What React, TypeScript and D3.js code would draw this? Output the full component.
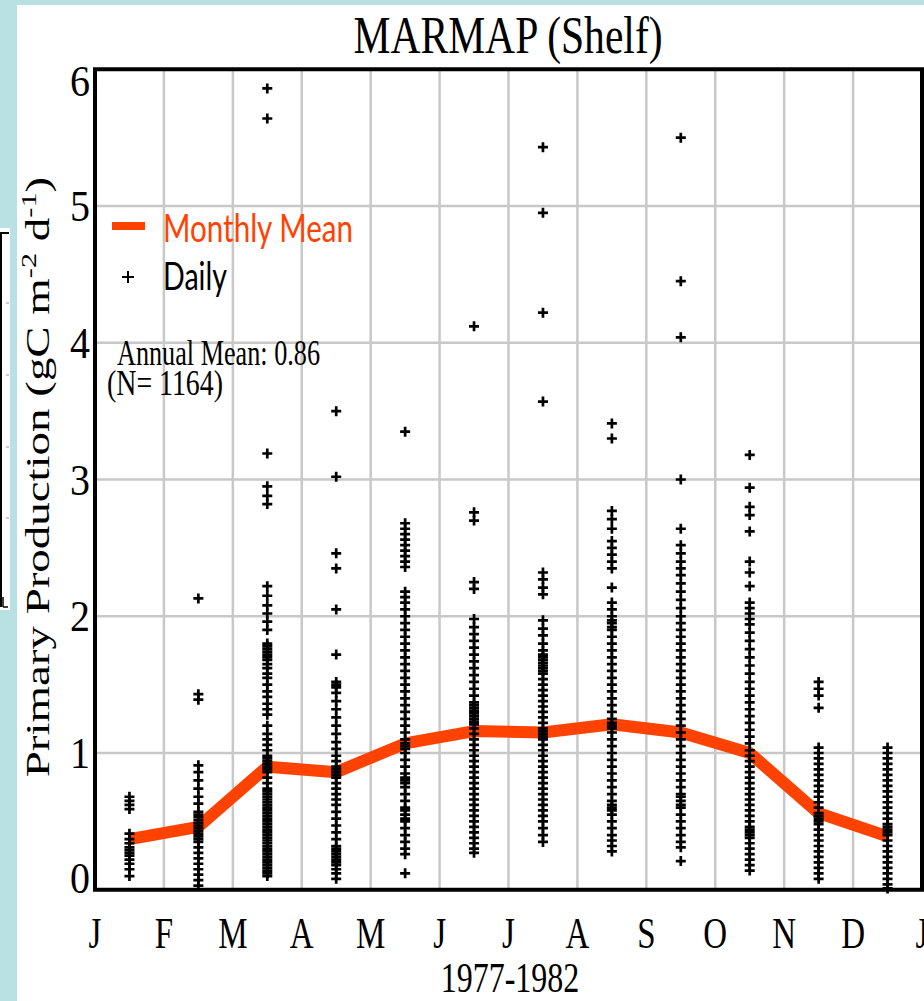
import React from 'react';
import * as d3 from 'd3';

const monthLabels = ['J', 'F', 'M', 'A', 'M', 'J', 'J', 'A', 'S', 'O', 'N', 'D', 'J'];
const yTickValues = [0, 1, 2, 3, 4, 5, 6];
const monthlyMean = [0.37, 0.46, 0.9, 0.86, 1.07, 1.16, 1.15, 1.21, 1.15, 1.0, 0.56, 0.39];

const dailyJan = [0.68, 0.65, 0.62, 0.59, 0.41, 0.37, 0.34, 0.31, 0.29, 0.27, 0.25, 0.22, 0.19, 0.15, 0.1];
const dailyFeb = [2.13, 1.43, 1.39, 0.91, 0.86, 0.8, 0.74, 0.68, 0.63, 0.57, 0.55, 0.53, 0.51, 0.49, 0.47, 0.45, 0.43, 0.41, 0.39, 0.37, 0.35, 0.31, 0.27, 0.23, 0.19, 0.15, 0.11, 0.07, 0.03];
const dailyMar = [5.86, 5.64, 3.19, 2.95, 2.88, 2.82, 2.22, 2.15, 2.08, 2.02, 1.96, 1.9, 1.8, 1.78, 1.76, 1.74, 1.72, 1.7, 1.68, 1.65, 1.62, 1.58, 1.55, 1.5, 1.45, 1.41, 1.36, 1.32, 1.28, 1.2, 1.14, 1.1, 1.06, 1.02, 0.98, 0.96, 0.94, 0.92, 0.9, 0.88, 0.86, 0.82, 0.78, 0.74, 0.72, 0.7, 0.68, 0.66, 0.64, 0.62, 0.6, 0.58, 0.56, 0.54, 0.52, 0.5, 0.48, 0.46, 0.44, 0.42, 0.4, 0.38, 0.36, 0.34, 0.32, 0.3, 0.28, 0.26, 0.24, 0.22, 0.2, 0.18, 0.16, 0.14, 0.12, 0.1];
const dailyApr = [3.5, 3.02, 2.46, 2.35, 2.05, 1.72, 1.52, 1.5, 1.48, 1.44, 1.38, 1.32, 1.26, 1.2, 1.14, 1.08, 1.03, 0.98, 0.94, 0.9, 0.88, 0.86, 0.84, 0.82, 0.78, 0.74, 0.7, 0.66, 0.62, 0.57, 0.52, 0.47, 0.42, 0.37, 0.32, 0.3, 0.28, 0.26, 0.24, 0.22, 0.2, 0.18, 0.15, 0.12, 0.08];
const dailyMay = [3.35, 2.68, 2.64, 2.6, 2.56, 2.52, 2.48, 2.44, 2.4, 2.36, 2.18, 2.14, 2.1, 2.05, 2.0, 1.95, 1.9, 1.85, 1.8, 1.75, 1.7, 1.65, 1.6, 1.55, 1.5, 1.45, 1.4, 1.35, 1.3, 1.25, 1.2, 1.15, 1.1, 1.07, 1.05, 1.03, 1.0, 0.95, 0.9, 0.85, 0.82, 0.8, 0.78, 0.75, 0.7, 0.65, 0.6, 0.58, 0.55, 0.52, 0.5, 0.45, 0.4, 0.35, 0.3, 0.26, 0.12];
const dailyJun = [4.12, 2.76, 2.7, 2.25, 2.2, 1.98, 1.92, 1.87, 1.82, 1.77, 1.72, 1.67, 1.62, 1.57, 1.52, 1.47, 1.42, 1.37, 1.35, 1.33, 1.31, 1.29, 1.27, 1.25, 1.23, 1.21, 1.18, 1.14, 1.1, 1.06, 1.02, 0.98, 0.94, 0.9, 0.86, 0.82, 0.78, 0.74, 0.7, 0.66, 0.62, 0.58, 0.54, 0.5, 0.46, 0.42, 0.38, 0.34, 0.3, 0.27];
const dailyJul = [5.43, 4.95, 4.22, 3.57, 2.32, 2.27, 2.21, 2.16, 1.97, 1.91, 1.86, 1.8, 1.75, 1.72, 1.7, 1.68, 1.66, 1.64, 1.62, 1.6, 1.58, 1.54, 1.5, 1.46, 1.42, 1.38, 1.34, 1.3, 1.26, 1.22, 1.18, 1.16, 1.14, 1.12, 1.1, 1.06, 1.02, 0.98, 0.94, 0.9, 0.86, 0.82, 0.78, 0.74, 0.7, 0.66, 0.62, 0.58, 0.54, 0.5, 0.45, 0.4, 0.35];
const dailyAug = [3.41, 3.3, 2.77, 2.71, 2.64, 2.55, 2.5, 2.45, 2.4, 2.35, 2.21, 2.1, 2.05, 2.0, 1.97, 1.95, 1.92, 1.9, 1.85, 1.8, 1.75, 1.7, 1.65, 1.6, 1.55, 1.5, 1.45, 1.4, 1.35, 1.3, 1.25, 1.22, 1.2, 1.18, 1.15, 1.1, 1.05, 1.0, 0.95, 0.9, 0.85, 0.8, 0.75, 0.7, 0.65, 0.62, 0.6, 0.58, 0.55, 0.5, 0.45, 0.4, 0.36, 0.32, 0.28];
const dailySep = [5.5, 4.45, 4.04, 3.0, 2.64, 2.52, 2.46, 2.4, 2.35, 2.3, 2.24, 2.18, 2.12, 2.06, 2.0, 1.95, 1.9, 1.85, 1.8, 1.75, 1.7, 1.65, 1.6, 1.55, 1.5, 1.45, 1.4, 1.35, 1.3, 1.25, 1.2, 1.15, 1.1, 1.05, 1.0, 0.95, 0.9, 0.85, 0.8, 0.75, 0.7, 0.68, 0.65, 0.62, 0.6, 0.55, 0.5, 0.45, 0.4, 0.35, 0.31, 0.21];
const dailyOct = [3.18, 2.94, 2.8, 2.74, 2.62, 2.4, 2.32, 2.22, 2.1, 2.06, 2.02, 1.98, 1.94, 1.88, 1.82, 1.76, 1.7, 1.64, 1.58, 1.52, 1.47, 1.42, 1.37, 1.32, 1.27, 1.22, 1.17, 1.12, 1.07, 1.02, 0.98, 0.94, 0.9, 0.86, 0.82, 0.78, 0.74, 0.7, 0.66, 0.62, 0.58, 0.54, 0.5, 0.46, 0.44, 0.42, 0.4, 0.38, 0.34, 0.3, 0.26, 0.22, 0.18, 0.14];
const dailyNov = [1.52, 1.47, 1.42, 1.33, 1.04, 1.0, 0.96, 0.92, 0.88, 0.84, 0.8, 0.76, 0.72, 0.68, 0.64, 0.6, 0.56, 0.54, 0.52, 0.5, 0.48, 0.44, 0.4, 0.36, 0.32, 0.28, 0.24, 0.2, 0.16, 0.12, 0.08];
const dailyDec = [1.04, 1.0, 0.96, 0.92, 0.88, 0.84, 0.8, 0.76, 0.72, 0.68, 0.64, 0.6, 0.56, 0.52, 0.48, 0.46, 0.44, 0.42, 0.4, 0.36, 0.32, 0.28, 0.24, 0.2, 0.16, 0.12, 0.08, 0.04, 0.01];

const dailyByMonth = [dailyJan, dailyFeb, dailyMar, dailyApr, dailyMay, dailyJun, dailyJul, dailyAug, dailySep, dailyOct, dailyNov, dailyDec];

const ORANGE = '#ff4200';
const SERIF = '"Liberation Serif", "Times New Roman", serif';
const SANS = 'Lato, "DejaVu Sans", sans-serif';

function STxt(props: any) {
  const { x, y, sx = 1, sy = 1, rot = 0, anchor = 'start', size, family = SERIF, fill = '#000', children, textLength } = props;
  return (
    <text
      transform={`translate(${x},${y}) rotate(${rot}) scale(${sx},${sy})`}
      textAnchor={anchor}
      fontSize={size}
      fontFamily={family}
      fill={fill}
      textLength={textLength}
      lengthAdjust={textLength ? 'spacingAndGlyphs' : undefined}
    >
      {children}
    </text>
  );
}

export default function App() {
  const W = 924;
  const H = 1001;
  const left = 95, right = 922, top = 69.25, bottom = 889.75;
  const x = d3.scaleLinear().domain([0, 12]).range([left, right]);
  const y = d3.scaleLinear().domain([0, 6]).range([bottom, top]);
  const mid = (i: number) => x(i + 0.5);

  const line = d3.line<number>().x((_, i) => mid(i)).y((d) => y(d));
  const plus = (s: number) => `M${-s / 2},0H${s / 2}M0,${-s / 2}V${s / 2}`;

  return (
    <svg width={W} height={H} style={{ position: 'absolute', left: 0, top: 0, display: 'block' }}>
      <rect x={0} y={0} width={W} height={H} fill="#b9e0e3" />
      <rect x={17} y={5} width={W - 17} height={H - 5} fill="#fff" />

      {/* left inset fragment */}
      <rect x={0} y={228} width={10} height={382} fill="#fff" />
      <line x1={0} y1={233} x2={9} y2={233} stroke="#000" strokeWidth={2} />
      <line x1={1} y1={233} x2={1} y2={607} stroke="#000" strokeWidth={2} />
      <line x1={3} y1={597} x2={3} y2={607} stroke="#000" strokeWidth={1.5} />
      <line x1={3} y1={607} x2={8} y2={607} stroke="#000" strokeWidth={1.5} />
      {[303, 375, 447, 518].map((v) => (
        <line key={v} x1={6} y1={v} x2={9} y2={v} stroke="#bbb" strokeWidth={1.5} />
      ))}

      {/* grid */}
      {d3.range(1, 12).map((m) => (
        <line key={'v' + m} x1={x(m)} x2={x(m)} y1={top} y2={bottom} stroke="#c8c8c8" strokeWidth={2.5} />
      ))}
      {yTickValues.slice(1, -1).map((v) => (
        <line key={'h' + v} x1={left} x2={right} y1={y(v)} y2={y(v)} stroke="#c8c8c8" strokeWidth={2.5} />
      ))}

      {/* monthly mean line */}
      <path d={line(monthlyMean) || ''} fill="none" stroke={ORANGE} strokeWidth={12} strokeLinejoin="round" />

      {/* daily points */}
      {dailyByMonth.map((vals, i) => (
        <g key={'m' + i}>
          {vals.map((v, j) => (
            <path key={j} d={plus(10)} transform={`translate(${mid(i)},${y(v)})`} stroke="#000" strokeWidth={2.7} fill="none" />
          ))}
        </g>
      ))}

      {/* frame */}
      <rect x={left} y={top} width={right - left} height={bottom - top} fill="none" stroke="#000" strokeWidth={4} />

      {/* y ticks */}
      {yTickValues.map((v) => {
        const shift = v === 0 ? -12 : v === 6 ? 12 : 0;
        return (
          <STxt key={'yt' + v} x={90} y={y(v) + shift + 15} sy={1.12} size={40} anchor="end">
            {String(v)}
          </STxt>
        );
      })}

      {/* x ticks */}
      {monthLabels.map((m, i) => (
        <STxt key={'xt' + i} x={x(i)} y={948} sy={1.35} size={33} anchor="middle">
          {m}
        </STxt>
      ))}

      {/* title */}
      <STxt x={508} y={53} sy={1.27} size={41.6} anchor="middle">MARMAP (Shelf)</STxt>

      {/* x label */}
      <STxt x={510} y={992} sy={1.35} size={32} anchor="middle">1977-1982</STxt>

      {/* y label */}
      <g transform="translate(49,477) rotate(-90) scale(1.38,1)">
        <text textAnchor="middle" fontSize={34} fontFamily={SERIF} fill="#000">
          <tspan>Primary Production (gC m</tspan>
          <tspan dy={-13} fontSize={22}>-2</tspan>
          <tspan dy={13}> d</tspan>
          <tspan dy={-13} fontSize={22}>-1</tspan>
          <tspan dy={13}>)</tspan>
        </text>
      </g>

      {/* legend */}
      <line x1={112} x2={145} y1={226} y2={226} stroke={ORANGE} strokeWidth={8} />
      <STxt x={163} y={242} sy={1.45} size={26} family={SANS} fill={ORANGE} textLength={190}>Monthly Mean</STxt>
      <path d={plus(12)} transform="translate(128,277)" stroke="#000" strokeWidth={2} fill="none" />
      <STxt x={163} y={290} sy={1.45} size={26} family={SANS} textLength={64}>Daily</STxt>

      {/* annotation */}
      <STxt x={117} y={365} sy={1.35} size={26} textLength={203}>Annual Mean: 0.86</STxt>
      <STxt x={107} y={395} sy={1.35} size={26} textLength={116}>(N= 1164)</STxt>
    </svg>
  );
}
